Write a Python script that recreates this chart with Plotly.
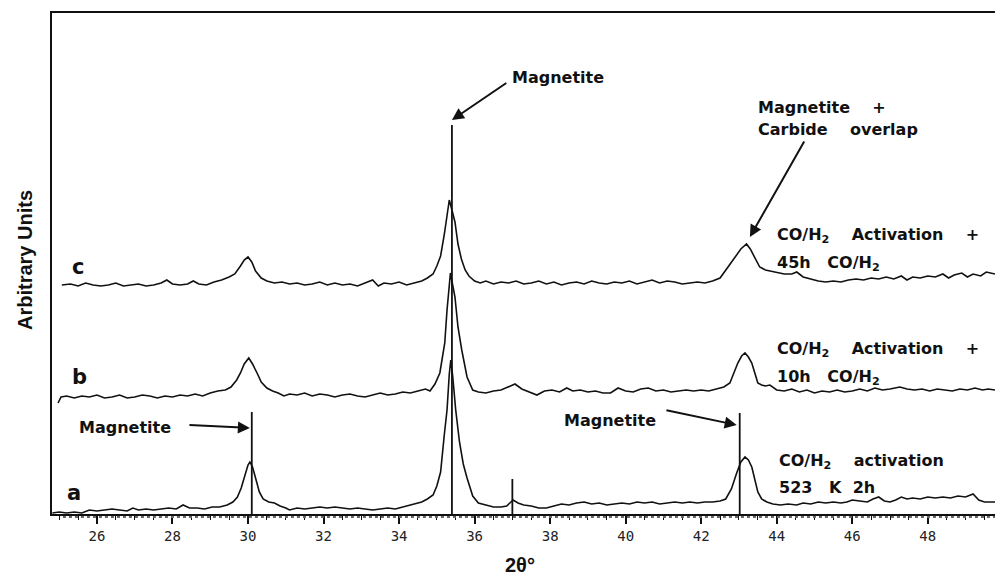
import plotly.graph_objects as go

# ---------------- data ----------------
# y values are in "arbitrary units" (vertical offsets kept as in the figure)
a_x = [24.82, 25.0, 25.2, 25.4, 25.6, 25.8, 26.0, 26.2, 26.4, 26.6, 26.8, 26.95, 27.1, 27.3, 27.5, 27.7, 27.9, 28.1,
       28.28, 28.45, 28.65, 28.85, 29.05, 29.25, 29.45, 29.6, 29.72, 29.82, 29.92, 30.0, 30.05, 30.12, 30.2, 30.3,
       30.4, 30.55, 30.7, 30.85, 31.0, 31.1, 31.3, 31.5, 31.7, 31.9, 32.1, 32.3, 32.5, 32.7, 32.9, 33.1, 33.3, 33.5,
       33.7, 33.9, 34.1, 34.3, 34.47, 34.6, 34.75, 34.9, 35.0, 35.1, 35.2, 35.27, 35.33, 35.37, 35.42, 35.5, 35.6,
       35.7, 35.8, 35.95, 36.1, 36.3, 36.5, 36.7, 36.85, 37.02, 37.15, 37.3, 37.5, 37.7, 37.9, 38.1, 38.3, 38.5,
       38.7, 38.9, 39.1, 39.3, 39.5, 39.7, 39.9, 40.1, 40.3, 40.5, 40.7, 40.9, 41.1, 41.3, 41.5, 41.7, 41.9, 42.1,
       42.3, 42.5, 42.65, 42.8, 42.94, 43.05, 43.16, 43.25, 43.34, 43.42, 43.5, 43.6, 43.74, 43.9, 44.1, 44.3,
       44.53, 44.7, 44.9, 45.1, 45.3, 45.5, 45.7, 45.86, 46.0, 46.2, 46.4, 46.55, 46.7, 46.85, 47.0, 47.15, 47.3,
       47.45, 47.6, 47.8, 48.0, 48.2, 48.4, 48.6, 48.8, 49.0, 49.2, 49.35, 49.5, 49.78]
a_y = [1, 2, 1, 2, 1, 4, 3, 4, 5, 4, 3, 6, 4, 5, 4, 5, 6, 5,
       9, 6, 6, 5, 7, 7, 9, 12, 17, 26, 40, 49, 52, 47, 36, 22,
       15, 12, 11, 8, 6, 4, 6, 5, 6, 7, 6, 7, 6, 5, 6, 5, 4, 5,
       6, 5, 7, 9, 11, 12, 15, 19, 28, 42, 80, 104, 140, 154, 138, 104, 72,
       50, 36, 18, 11, 9, 7, 7, 8, 14, 11, 9, 8, 6, 6, 8, 10, 9,
       11, 12, 10, 11, 9, 10, 11, 10, 12, 11, 12, 10, 11, 12, 11, 12, 11, 12,
       12, 13, 15, 25, 41, 52, 57, 54, 47, 34, 22, 15, 12, 10, 9, 10,
       9, 11, 10, 12, 11, 12, 11, 12, 14, 13, 12, 15, 17, 13, 12, 14, 17,
       15, 16, 15, 17, 16, 17, 16, 18, 17, 20, 14, 12, 12]

b_x = [24.97, 25.05, 25.2, 25.4, 25.6, 25.8, 26.0, 26.2, 26.4, 26.6, 26.8, 27.0, 27.2, 27.4, 27.6, 27.8, 28.0, 28.2,
       28.4, 28.6, 28.8, 29.0, 29.2, 29.4, 29.55, 29.7, 29.8, 29.9, 30.02, 30.12, 30.24, 30.35, 30.5, 30.65, 30.8,
       30.95, 31.1, 31.3, 31.5, 31.7, 31.9, 32.1, 32.3, 32.5, 32.7, 32.9, 33.1, 33.3, 33.5, 33.7, 33.9, 34.1, 34.3,
       34.5, 34.7, 34.82, 34.95, 35.08, 35.21, 35.27, 35.36, 35.48, 35.56, 35.66, 35.8, 35.95, 36.1, 36.3, 36.5,
       36.7, 36.9, 37.07, 37.25, 37.45, 37.65, 37.85, 38.05, 38.25, 38.44, 38.6, 38.8, 39.0, 39.2, 39.4, 39.6,
       39.8, 40.0, 40.2, 40.4, 40.6, 40.8, 41.0, 41.2, 41.4, 41.6, 41.8, 42.0, 42.2, 42.4, 42.6, 42.76, 42.87,
       42.97, 43.07, 43.16, 43.25, 43.34, 43.42, 43.5, 43.6, 43.7, 43.82, 44.0, 44.2, 44.4, 44.6, 44.8, 45.0,
       45.2, 45.4, 45.6, 45.8, 46.0, 46.2, 46.4, 46.6, 46.8, 47.0, 47.26, 47.45, 47.65, 47.85, 48.05, 48.25,
       48.45, 48.65, 48.85, 49.05, 49.25, 49.45, 49.6, 49.78]
b_y = [111, 117, 118, 116, 118, 117, 119, 116, 117, 119, 116, 117, 119, 118, 116, 118, 117, 119,
       118, 120, 118, 121, 123, 124, 127, 134, 141, 150, 156, 150, 141, 132, 126, 123, 121,
       118, 120, 119, 121, 118, 120, 119, 117, 119, 120, 118, 117, 119, 121, 119, 120, 122, 121,
       123, 125, 123, 130, 141, 171, 204, 241, 217, 187, 164, 137, 124, 122, 121, 123,
       124, 127, 130, 125, 122, 119, 123, 124, 122, 126, 123, 124, 122, 123, 121, 121,
       126, 123, 122, 125, 126, 123, 124, 122, 123, 124, 123, 124, 123, 125, 127, 131, 142,
       151, 158, 161, 157, 151, 141, 131, 129, 128, 129, 124, 123, 125, 122, 124, 121,
       123, 122, 124, 122, 123, 125, 123, 126, 124, 125, 127, 125, 124, 125, 123, 125,
       124, 123, 125, 124, 126, 124, 125, 124]

c_x = [25.07, 25.3, 25.5, 25.7, 25.9, 26.1, 26.3, 26.5, 26.7, 26.9, 27.1, 27.3, 27.5, 27.7, 27.85, 28.0, 28.2, 28.4,
       28.55, 28.7, 28.9, 29.1, 29.3, 29.5, 29.65, 29.8, 29.9, 30.0, 30.1, 30.2, 30.35, 30.5, 30.7, 30.9, 31.1,
       31.3, 31.5, 31.7, 31.9, 32.1, 32.3, 32.5, 32.7, 32.9, 33.1, 33.3, 33.45, 33.6, 33.8, 34.0, 34.2, 34.4,
       34.6, 34.75, 34.9, 35.0, 35.1, 35.2, 35.27, 35.33, 35.4, 35.48, 35.56, 35.65, 35.75, 35.85, 36.0, 36.15,
       36.3, 36.5, 36.7, 36.9, 37.1, 37.3, 37.5, 37.7, 37.9, 38.1, 38.3, 38.5, 38.7, 38.9, 39.1, 39.3, 39.5,
       39.7, 39.9, 40.1, 40.3, 40.5, 40.7, 40.9, 41.1, 41.3, 41.5, 41.7, 41.9, 42.1, 42.3, 42.5, 42.6, 42.75,
       42.9, 43.05, 43.2, 43.3, 43.42, 43.55, 43.7, 43.85, 44.0, 44.2, 44.4, 44.53, 44.7, 44.9, 45.1, 45.3,
       45.5, 45.7, 45.9, 46.1, 46.3, 46.5, 46.7, 46.9, 47.1, 47.3, 47.45, 47.6, 47.8, 48.0, 48.2, 48.4, 48.55,
       48.7, 48.9, 49.05, 49.2, 49.4, 49.55, 49.78]
c_y = [229, 230, 228, 231, 229, 228, 229, 231, 228, 229, 230, 228, 229, 231, 234, 230, 229, 230,
       233, 230, 229, 232, 234, 237, 240, 248, 254, 257, 252, 243, 236, 233, 231, 232, 230,
       231, 229, 230, 232, 229, 231, 229, 230, 228, 231, 234, 228, 231, 230, 232, 229, 231,
       233, 236, 240, 248, 258, 280, 300, 314, 304, 292, 270, 255, 244, 238, 233, 231,
       233, 230, 232, 231, 233, 230, 231, 233, 230, 232, 229, 231, 232, 230, 233, 231, 230,
       232, 231, 233, 230, 232, 234, 231, 233, 232, 230, 231, 232, 231, 233, 236, 241, 249,
       257, 265, 270, 265, 257, 247, 244, 243, 242, 240, 240, 242, 237, 235, 233, 232,
       233, 232, 234, 235, 234, 236, 235, 237, 235, 238, 234, 237, 236, 238, 237, 240, 236,
       239, 241, 237, 240, 238, 242, 240]

# Magnetite reference lines: positions (2theta) and their top heights
ref_x = [30.1, 35.4, 37.0, 43.02]
ref_top = [102, 389, 35, 101]

tick_vals = [26, 28, 30, 32, 34, 36, 38, 40, 42, 44, 46, 48]
tick_text = [str(v) for v in tick_vals]

# ---------------- figure ----------------
INK = "#111111"
fig = go.Figure()

for xs, ys in [(a_x, a_y), (b_x, b_y), (c_x, c_y)]:
    fig.add_trace(go.Scatter(x=xs, y=ys, mode="lines",
                             line=dict(color=INK, width=1.6), hoverinfo="skip"))

lx, ly = [], []
for xv, top in zip(ref_x, ref_top):
    lx += [xv, xv, None]
    ly += [0, top, None]
fig.add_trace(go.Scatter(x=lx, y=ly, mode="lines",
                         line=dict(color=INK, width=1.8), hoverinfo="skip"))

ann_font = dict(family="DejaVu Sans", size=16, color=INK)
NB = "\u00a0"

def txt(x, y, s, size=16, anchor="left"):
    return dict(x=x, y=y, xref="x", yref="y", text=s, showarrow=False,
                xanchor=anchor, yanchor="middle",
                font=dict(family="DejaVu Sans", size=size, color=INK))

def arrow(x_tail, y_tail, x_head, y_head):
    return dict(x=x_head, y=y_head, ax=x_tail, ay=y_tail, xref="x", yref="y",
                axref="x", ayref="y", text="", showarrow=True,
                arrowhead=2, arrowsize=1.2, arrowwidth=2, arrowcolor=INK)

H2 = "CO/H<sub>2</sub>"
annotations = [
    txt(36.93, 437, "<b>Magnetite</b>"),
    txt(43.45, 407, "<b>Magnetite" + NB * 4 + "+</b>"),
    txt(43.45, 385, "<b>Carbide" + NB * 4 + "overlap</b>"),
    txt(43.95, 279, "<b>" + H2 + NB * 4 + "Activation" + NB * 4 + "+</b>"),
    txt(43.95, 251, "<b>45h" + NB * 3 + H2 + "</b>"),
    txt(43.95, 165, "<b>" + H2 + NB * 4 + "Activation" + NB * 4 + "+</b>"),
    txt(43.95, 137, "<b>10h" + NB * 3 + H2 + "</b>"),
    txt(44.0, 53, "<b>" + H2 + NB * 4 + "activation</b>"),
    txt(44.0, 27, "<b>523" + NB * 3 + "K" + NB * 2 + "2h</b>"),
    txt(25.47, 87, "<b>Magnetite</b>"),
    txt(38.31, 94, "<b>Magnetite</b>"),
    txt(25.4, 21, "<b>a</b>", size=21, anchor="center"),
    txt(25.55, 137, "<b>b</b>", size=21, anchor="center"),
    txt(25.5, 247, "<b>c</b>", size=21, anchor="center"),
    arrow(36.88, 432, 35.40, 394),
    arrow(44.75, 374, 43.29, 277),
    arrow(28.41, 89, 30.05, 86),
    arrow(41.04, 104, 42.94, 89),
    dict(x=0.496, y=-0.102, xref="paper", yref="paper", text="<b>2θ°</b>",
         showarrow=False, xanchor="center", yanchor="middle",
         font=dict(family="Liberation Sans", size=20, color=INK)),
    dict(x=-0.0286, y=0.507, xref="paper", yref="paper", text="<b>Arbitrary Units</b>",
         showarrow=False, textangle=-90, xanchor="center", yanchor="middle",
         font=dict(family="Liberation Sans", size=20, color=INK)),
]

fig.update_layout(
    width=996, height=578,
    margin=dict(l=52, r=1, t=13, b=64),
    paper_bgcolor="white", plot_bgcolor="white",
    showlegend=False,
    annotations=annotations,
    shapes=[dict(type="line", xref="x", yref="paper", x0=25.1, x1=49.78,
                 y0=-0.006, y1=-0.006, line=dict(color="#666666", width=2, dash="dot"))],
    xaxis=dict(range=[24.81, 49.78], showgrid=False, zeroline=False,
               showline=True, linecolor=INK, linewidth=2, mirror=True,
               ticks="outside", ticklen=8, tickwidth=1.5, tickcolor=INK,
               tickvals=tick_vals, ticktext=tick_text,
               minor=dict(dtick=0.5, tick0=0, ticks="outside", ticklen=4,
                          tickwidth=1, tickcolor=INK),
               tickfont=dict(family="DejaVu Sans Mono", size=14, color="#222222")),
    yaxis=dict(range=[0, 501], showgrid=False, zeroline=False, showticklabels=False,
               ticks="", showline=True, linecolor=INK, linewidth=1.5, mirror=False),
)

fig.write_html("out.html")
